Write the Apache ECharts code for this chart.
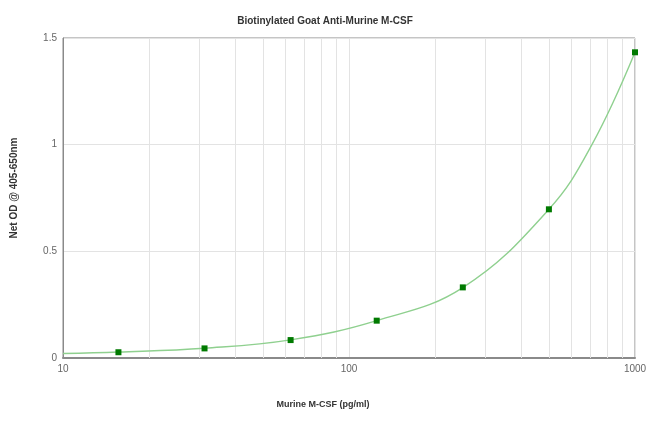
<!DOCTYPE html>
<html>
<head>
<meta charset="utf-8">
<script src="https://cdn.jsdelivr.net/npm/echarts@6/dist/echarts.min.js"></script>
<style>html,body{margin:0;padding:0;background:#fff;}#c{width:650px;height:426px;}</style>
</head>
<body>
<div id="c"></div>
<script>
var titleText = 'Biotinylated Goat Anti-Murine M-CSF';
var xName = 'Murine M-CSF (pg/ml)';
var yName = 'Net OD @ 405-650nm';
// standards (pg/ml) and measured OD
var conc = [15.625, 31.25, 62.5, 125, 250, 500, 1000];
var od = [0.027, 0.045, 0.084, 0.175, 0.331, 0.697, 1.433];
// fitted curve
var curveX = [10, 15.625, 31.25, 62.5, 125, 250, 500, 707, 1000];
var curveY = [0.021, 0.028, 0.046, 0.085, 0.175, 0.33, 0.697, 1.0, 1.433];
// minor log gridlines
var minorGrid = [20, 30, 40, 50, 60, 70, 80, 90, 200, 300, 400, 500, 600, 700, 800, 900];

var font = 'Liberation Sans, Arial, sans-serif';
var chart = echarts.init(document.getElementById('c'), null, {renderer: 'canvas'});
chart.setOption({
  animation: false,
  title: {
    text: titleText, left: 'center', top: 11,
    textStyle: {fontSize: 10, fontWeight: 'bold', color: '#333', fontFamily: font}
  },
  grid: {left: 63, right: 15, top: 38, bottom: 68, show: true, borderColor: '#8a8a8a', borderWidth: 1, containLabel: false},
  xAxis: {
    type: 'log', logBase: 10, min: 10, max: 1000,
    name: xName, nameLocation: 'middle', nameGap: 42,
    nameTextStyle: {fontSize: 9, fontWeight: 'bold', color: '#333', fontFamily: font, padding: [0, 52, 0, 0]},
    axisLine: {show: true, lineStyle: {color: '#8a8a8a', width: 2}},
    axisTick: {show: false},
    axisLabel: {fontSize: 10, color: '#666', fontFamily: font, margin: 6,
      formatter: function (v) { return String(Math.round(v)); }},
    splitLine: {show: true, lineStyle: {color: '#e3e3e3', width: 1}}
  },
  yAxis: {
    type: 'value', min: 0, max: 1.5, interval: 0.5,
    name: yName, nameLocation: 'middle', nameGap: 44,
    nameTextStyle: {fontSize: 10, fontWeight: 'bold', color: '#333', fontFamily: font, padding: [0, 0, 0, 20]},
    axisLine: {show: true, lineStyle: {color: '#8a8a8a', width: 1}},
    axisTick: {show: false},
    axisLabel: {fontSize: 10, color: '#666', fontFamily: font, margin: 6},
    splitLine: {show: true, lineStyle: {color: '#e3e3e3', width: 1}}
  },
  series: [
    {
      type: 'line', z: 1, silent: true,
      data: minorGrid.map(function (v) { return [v, 0]; }),
      showSymbol: false, symbol: 'none', lineStyle: {opacity: 0},
      markLine: {
        silent: true, symbol: 'none', label: {show: false},
        lineStyle: {color: '#e3e3e3', width: 1, type: 'solid'},
        data: minorGrid.map(function (v) { return {xAxis: v}; })
      }
    },
    {
      type: 'line', zlevel: 1, z: 3, smooth: 0.4, symbol: 'none', silent: true,
      data: curveX.map(function (v, i) { return [v, curveY[i]]; }),
      lineStyle: {color: '#8fd08f', width: 1.4}
    },
    {
      type: 'scatter', zlevel: 1, z: 4, symbol: 'rect', symbolSize: 6,
      data: conc.map(function (v, i) { return [v, od[i]]; }),
      itemStyle: {color: '#007a00', opacity: 1}
    }
  ]
});
</script>
</body>
</html>
